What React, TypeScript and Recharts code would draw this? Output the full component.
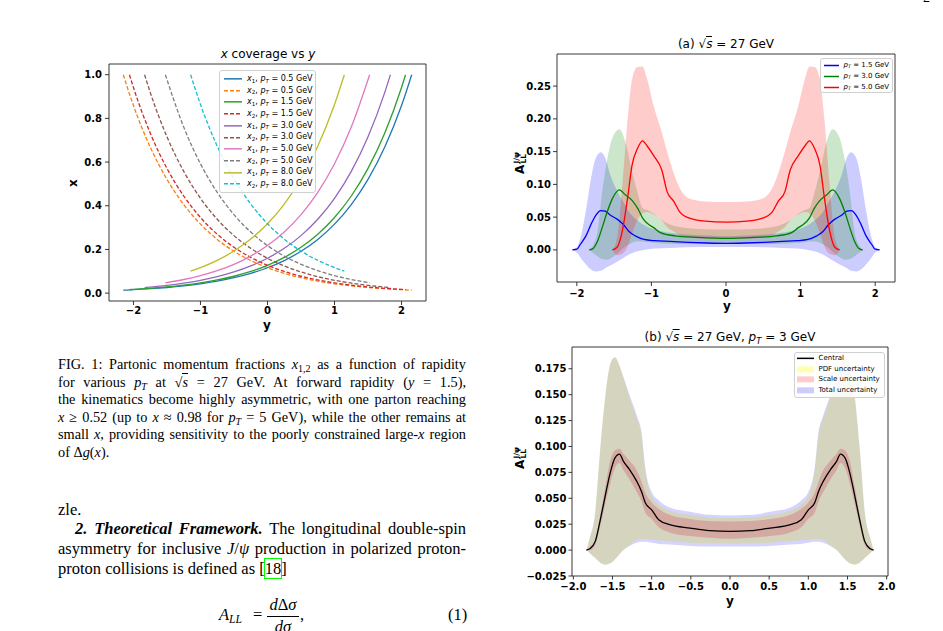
import React from 'react';
import { ComposedChart, Line, Area, XAxis, YAxis, ReferenceLine } from 'recharts';

// ---------- Fig. 1 (left): x coverage vs y ----------
const covLabels = ['0.5', '1.5', '3.0', '5.0', '8.0'];
const covX1Colors = ['#1f77b4', '#2ca02c', '#9467bd', '#e377c2', '#bcbd22'];
const covX2Colors = ['#ff7f0e', '#d62728', '#8c564b', '#7f7f7f', '#17becf'];

// rapidity grid and x1 read for each pT (x2 is the same curve mirrored in y)
const covY05 = [-2.152, -2.0, -1.75, -1.5, -1.25, -1.0, -0.75, -0.5, -0.25, 0, 0.25, 0.5, 0.75, 1.0, 1.25, 1.5, 1.75, 2.0, 2.152];
const covX05 = [0.0135, 0.0157, 0.0202, 0.0259, 0.0333, 0.0427, 0.0549, 0.0705, 0.0905, 0.1162, 0.1492, 0.1916, 0.246, 0.3159, 0.4056, 0.5208, 0.6687, 0.8586, 1.0];
const covY15 = [-2.06, -2.0, -1.75, -1.5, -1.25, -1.0, -0.75, -0.5, -0.25, 0, 0.25, 0.5, 0.75, 1.0, 1.25, 1.5, 1.75, 2.0, 2.06];
const covX15 = [0.0162, 0.0172, 0.0221, 0.0284, 0.0365, 0.0469, 0.0602, 0.0773, 0.0992, 0.1274, 0.1636, 0.21, 0.2697, 0.3463, 0.4447, 0.571, 0.7331, 0.9414, 1.0];
const covY30 = [-1.834, -1.75, -1.5, -1.25, -1.0, -0.75, -0.5, -0.25, 0, 0.25, 0.5, 0.75, 1.0, 1.25, 1.5, 1.75, 1.834];
const covX30 = [0.0255, 0.0278, 0.0356, 0.0458, 0.0588, 0.0754, 0.0969, 0.1244, 0.1597, 0.2051, 0.2633, 0.3381, 0.4341, 0.5574, 0.7157, 0.919, 1.0];
const covY50 = [-1.524, -1.25, -1.0, -0.75, -0.5, -0.25, 0, 0.25, 0.5, 0.75, 1.0, 1.25, 1.524];
const covX50 = [0.0474, 0.0624, 0.0801, 0.1029, 0.1321, 0.1696, 0.2178, 0.2797, 0.3591, 0.4611, 0.5921, 0.7602, 1.0];
const covY80 = [-1.147, -1.0, -0.75, -0.5, -0.25, 0, 0.25, 0.5, 0.75, 1.0, 1.147];
const covX80 = [0.1009, 0.1169, 0.1501, 0.1927, 0.2474, 0.3177, 0.4079, 0.5238, 0.6726, 0.8636, 1.0];

const covYs = [covY05, covY15, covY30, covY50, covY80];
const covXs = [covX05, covX15, covX30, covX50, covX80];

const covTicksX = [-2, -1, 0, 1, 2];
const covTicksY = [0, 0.2, 0.4, 0.6, 0.8, 1.0];
const covDomX = [-2.365, 2.365];
const covDomY = [-0.036, 1.049];

// ---------- (a) sqrt(s) = 27 GeV, left half (the plot is symmetric in y) ----------
const aBlueX = [-2.06, -2.0, -1.95, -1.88, -1.81, -1.75, -1.68, -1.62, -1.55, -1.46, -1.37, -1.3, -1.21, -1.1, -0.95, -0.75, -0.5, -0.25, 0];
const aBlueMid = [0, 0.001, 0.009, 0.021, 0.039, 0.052, 0.06, 0.059, 0.053, 0.047, 0.038, 0.028, 0.021, 0.016, 0.014, 0.013, 0.0115, 0.0105, 0.01];
const aBlueLo = [0, -0.004, -0.012, -0.022, -0.03, -0.033, -0.032, -0.028, -0.024, -0.018, -0.012, -0.007, -0.003, 0, 0.002, 0.003, 0.004, 0.0045, 0.0045];
const aBlueHi = [0, 0.004, 0.019, 0.059, 0.109, 0.139, 0.149, 0.141, 0.114, 0.09, 0.072, 0.058, 0.047, 0.038, 0.031, 0.026, 0.023, 0.022, 0.021];

const aGreenX = [-1.834, -1.79, -1.72, -1.66, -1.59, -1.52, -1.43, -1.35, -1.26, -1.18, -1.12, -1.04, -0.97, -0.88, -0.68, -0.37, 0];
const aGreenMid = [0, 0.0015, 0.014, 0.034, 0.059, 0.079, 0.0915, 0.084, 0.0755, 0.0625, 0.049, 0.039, 0.034, 0.0265, 0.0215, 0.019, 0.0175];
const aGreenLo = [0, -0.004, -0.01, -0.014, -0.015, -0.011, -0.003, 0.005, 0.011, 0.013, 0.013, 0.012, 0.011, 0.01, 0.009, 0.009, 0.009];
const aGreenHi = [0, 0.006, 0.03, 0.089, 0.14, 0.172, 0.184, 0.165, 0.12, 0.085, 0.064, 0.06, 0.055, 0.047, 0.036, 0.032, 0.031];

const aRedX = [-1.524, -1.46, -1.39, -1.32, -1.26, -1.19, -1.12, -1.06, -0.97, -0.86, -0.79, -0.7, -0.61, -0.5, -0.28, 0];
const aRedMid = [0, 0.004, 0.029, 0.079, 0.129, 0.154, 0.1665, 0.159, 0.144, 0.1215, 0.089, 0.074, 0.0565, 0.049, 0.044, 0.0425];
const aRedLo = [0, -0.008, -0.006, 0.005, 0.025, 0.045, 0.056, 0.058, 0.054, 0.045, 0.035, 0.028, 0.022, 0.019, 0.017, 0.017];
const aRedHi = [0, 0.019, 0.099, 0.199, 0.26, 0.279, 0.28, 0.262, 0.22, 0.179, 0.15, 0.117, 0.092, 0.079, 0.074, 0.073];

const aTicksX = [-2, -1, 0, 1, 2];
const aTicksY = [0, 0.05, 0.1, 0.15, 0.2, 0.25];
const aDomX = [-2.266, 2.266];
const aDomY = [-0.049, 0.299];

// ---------- (b) sqrt(s) = 27 GeV, pT = 3 GeV, left half ----------
const bX = [-1.834, -1.79, -1.72, -1.66, -1.59, -1.53, -1.47, -1.41, -1.36, -1.28, -1.19, -1.13, -1.08, -1.0, -0.91, -0.77, -0.51, -0.26, 0];
const bCentral = [0, 0.0013, 0.0084, 0.0277, 0.0534, 0.0743, 0.0888, 0.0927, 0.0856, 0.0775, 0.0663, 0.0566, 0.0454, 0.0389, 0.0293, 0.0245, 0.0212, 0.0187, 0.018];
const bPdfHi = [0, 0.012, 0.037, 0.095, 0.15, 0.179, 0.186, 0.178, 0.166, 0.147, 0.127, 0.111, 0.075, 0.052, 0.044, 0.038, 0.034, 0.0315, 0.031];
const bPdfLo = [0, -0.003, -0.0077, -0.012, -0.0142, -0.0128, -0.009, -0.004, 0, 0.005, 0.01, 0.011, 0.011, 0.01, 0.0095, 0.0085, 0.007, 0.0065, 0.0064];
const bScaleHi = [0, 0.003, 0.01, 0.0325, 0.062, 0.086, 0.096, 0.0978, 0.093, 0.086, 0.077, 0.066, 0.055, 0.046, 0.04, 0.034, 0.03, 0.028, 0.0277];
const bScaleLo = [0, 0, 0.005, 0.022, 0.045, 0.064, 0.079, 0.084, 0.077, 0.068, 0.056, 0.047, 0.036, 0.03, 0.022, 0.017, 0.0135, 0.012, 0.011];
const bTotalHi = [0, 0.012, 0.037, 0.095, 0.15, 0.179, 0.186, 0.178, 0.167, 0.149, 0.13, 0.114, 0.079, 0.056, 0.048, 0.041, 0.037, 0.034, 0.0335];
const bTotalLo = [0, -0.003, -0.0077, -0.012, -0.0142, -0.0128, -0.009, -0.004, 0, 0.004, 0.007, 0.008, 0.008, 0.007, 0.006, 0.0055, 0.004, 0.0035, 0.0035];

const bTicksX = [-2, -1.5, -1, -0.5, 0, 0.5, 1, 1.5, 2];
const bTicksY = [-0.025, 0, 0.025, 0.05, 0.075, 0.1, 0.125, 0.15, 0.175];
const bDomX = [-2.017, 2.017];
const bDomY = [-0.025, 0.196];

// mirror a left-half (ending at y = 0) onto the right half
const mirrorRows = <T extends { x: number }>(left: T[]): T[] => [
  ...left,
  ...left.slice(0, -1).reverse().map((p) => ({ ...p, x: -p.x })),
];

const bandRows = (xs: number[], lo: number[], mid: number[], hi: number[]) =>
  mirrorRows(xs.map((x, i) => ({ x, mid: mid[i], band: [lo[i], hi[i]] })));

const aBlue = bandRows(aBlueX, aBlueLo, aBlueMid, aBlueHi);
const aGreen = bandRows(aGreenX, aGreenLo, aGreenMid, aGreenHi);
const aRed = bandRows(aRedX, aRedLo, aRedMid, aRedHi);

const bRows = mirrorRows(
  bX.map((x, i) => ({
    x,
    central: bCentral[i],
    pdf: [bPdfLo[i], bPdfHi[i]],
    scale: [bScaleLo[i], bScaleHi[i]],
    total: [bTotalLo[i], bTotalHi[i]],
  })),
);

// ---------- styling helpers ----------
const MPL = 'DejaVu Sans, Verdana, sans-serif';
const SERIF = '"Liberation Serif", "Times New Roman", serif';
const tickStyle = { fill: '#000', fontSize: 10, fontWeight: 700, fontFamily: MPL };
const spine = { stroke: '#222', strokeWidth: 0.9 };

const fmt = (digits: number) => (v: number) =>
  (v < 0 ? '\u2212' : '') + Math.abs(v).toFixed(digits);

// top and right spines of the matplotlib box
const frame = (domX: number[], domY: number[]) => [
  <ReferenceLine key="ft" y={domY[1]} stroke={spine.stroke} strokeWidth={spine.strokeWidth} ifOverflow="visible" />,
  <ReferenceLine key="fr" x={domX[1]} stroke={spine.stroke} strokeWidth={spine.strokeWidth} ifOverflow="visible" />,
];

const Sub = ({ children }: { children: React.ReactNode }) => (
  <span style={{ fontSize: '0.7em', position: 'relative', top: '0.3em' }}>{children}</span>
);
const Sqrt = () => (
  <span>
    √<span style={{ borderTop: '1px solid currentColor' }}><i>s</i></span>
  </span>
);
const PT = () => (
  <>
    <i>p</i>
    <Sub>
      <i>T</i>
    </Sub>
  </>
);

const Centered = ({
  x,
  y,
  rotate,
  style,
  children,
}: {
  x: number;
  y: number;
  rotate?: boolean;
  style?: React.CSSProperties;
  children: React.ReactNode;
}) => (
  <div
    style={{
      position: 'absolute',
      left: x,
      top: y,
      transform: `translate(-50%, -50%)${rotate ? ' rotate(-90deg)' : ''}`,
      whiteSpace: 'nowrap',
      lineHeight: 1,
      fontFamily: MPL,
      color: '#000',
      ...style,
    }}
  >
    {children}
  </div>
);

const ALLLabel = () => (
  <span style={{ fontWeight: 700, fontSize: 12, display: 'inline-flex', alignItems: 'center' }}>
    A
    <span style={{ display: 'inline-flex', flexDirection: 'column', fontSize: 7.5, lineHeight: 1, marginLeft: 1 }}>
      <span>J/ψ</span>
      <span>LL</span>
    </span>
  </span>
);

type LegendItem = { kind: 'line' | 'dash' | 'patch'; color: string; opacity?: number; label: React.ReactNode };

function LegendBox({
  left,
  top,
  width,
  height,
  rowH,
  padTop,
  sampleLeft,
  sampleLen,
  textGap,
  fontSize,
  items,
}: {
  left: number;
  top: number;
  width: number;
  height: number;
  rowH: number;
  padTop: number;
  sampleLeft: number;
  sampleLen: number;
  textGap: number;
  fontSize: number;
  items: LegendItem[];
}) {
  return (
    <div
      style={{
        position: 'absolute',
        left,
        top,
        width,
        height,
        boxSizing: 'border-box',
        border: '1px solid #d0d0d0',
        borderRadius: 3,
        background: 'rgba(255,255,255,0.85)',
        fontFamily: MPL,
        fontSize,
        color: '#000',
      }}
    >
      {items.map((it, i) => (
        <div
          key={i}
          style={{
            position: 'absolute',
            left: sampleLeft,
            top: padTop + i * rowH,
            height: rowH,
            display: 'flex',
            alignItems: 'center',
            whiteSpace: 'nowrap',
            lineHeight: 1,
          }}
        >
          <svg width={sampleLen} height={rowH} style={{ marginRight: textGap, flex: 'none' }}>
            {it.kind === 'patch' ? (
              <rect x={0} y={rowH / 2 - 3} width={sampleLen} height={6} fill={it.color} fillOpacity={it.opacity ?? 1} />
            ) : (
              <line
                x1={0}
                x2={sampleLen}
                y1={rowH / 2}
                y2={rowH / 2}
                stroke={it.color}
                strokeOpacity={it.opacity ?? 1}
                strokeWidth={1.5}
                strokeDasharray={it.kind === 'dash' ? '4 2' : undefined}
              />
            )}
          </svg>
          <span>{it.label}</span>
        </div>
      ))}
    </div>
  );
}

function CoverageChart() {
  return (
    <ComposedChart width={400} height={300} margin={{ top: 24, right: 24, left: 14, bottom: 14 }}>
      <XAxis
        dataKey="y"
        type="number"
        domain={covDomX}
        allowDataOverflow
        ticks={covTicksX}
        interval={0}
        tickFormatter={fmt(0)}
        tick={tickStyle}
        tickSize={4}
        tickMargin={2}
        tickLine={spine}
        axisLine={spine}
        height={25}
      />
      <YAxis
        type="number"
        domain={covDomY}
        allowDataOverflow
        ticks={covTicksY}
        interval={0}
        tickFormatter={fmt(1)}
        tick={tickStyle}
        tickSize={4}
        tickMargin={3}
        tickLine={spine}
        axisLine={spine}
        width={45}
      />
      {frame(covDomX, covDomY)}
      {covLabels.flatMap((pt, k) => {
        const x1 = covYs[k].map((y, i) => ({ y, x: covXs[k][i] }));
        const x2 = covYs[k].map((y, i) => ({ y: -y, x: covXs[k][i] })).reverse();
        return [
          <Line
            key={`x1-${pt}`}
            data={x1}
            dataKey="x"
            type="monotone"
            stroke={covX1Colors[k]}
            strokeWidth={1.3}
            dot={false}
            activeDot={false}
            isAnimationActive={false}
          />,
          <Line
            key={`x2-${pt}`}
            data={x2}
            dataKey="x"
            type="monotone"
            stroke={covX2Colors[k]}
            strokeWidth={1.3}
            strokeDasharray="4 2"
            dot={false}
            activeDot={false}
            isAnimationActive={false}
          />,
        ];
      })}
    </ComposedChart>
  );
}

function ChartA() {
  const series = [
    { rows: aBlue, color: '#0000ff' },
    { rows: aGreen, color: '#008000' },
    { rows: aRed, color: '#ff0000' },
  ];
  return (
    <ComposedChart width={420} height={280} margin={{ top: 24, right: 25, left: 12, bottom: 3 }}>
      <XAxis
        dataKey="x"
        type="number"
        domain={aDomX}
        allowDataOverflow
        ticks={aTicksX}
        interval={0}
        tickFormatter={fmt(0)}
        tick={tickStyle}
        tickSize={4}
        tickMargin={4}
        tickLine={spine}
        axisLine={spine}
        height={25}
      />
      <YAxis
        type="number"
        domain={aDomY}
        allowDataOverflow
        ticks={aTicksY}
        interval={0}
        tickFormatter={fmt(2)}
        tick={tickStyle}
        tickSize={4}
        tickMargin={2}
        tickLine={spine}
        axisLine={spine}
        width={45}
      />
      {frame(aDomX, aDomY)}
      {series.flatMap((s, k) => [
        <Area
          key={`band-${k}`}
          data={s.rows}
          dataKey="band"
          type="monotone"
          stroke="none"
          fill={s.color}
          fillOpacity={0.2}
          dot={false}
          activeDot={false}
          isAnimationActive={false}
        />,
        <Line
          key={`mid-${k}`}
          data={s.rows}
          dataKey="mid"
          type="monotone"
          stroke={s.color}
          strokeWidth={1.3}
          dot={false}
          activeDot={false}
          isAnimationActive={false}
        />,
      ])}
    </ComposedChart>
  );
}

function ChartB() {
  return (
    <ComposedChart width={420} height={280} data={bRows} margin={{ top: 27, right: 32, left: 17, bottom: 4 }}>
      <XAxis
        dataKey="x"
        type="number"
        domain={bDomX}
        allowDataOverflow
        ticks={bTicksX}
        interval={0}
        tickFormatter={fmt(1)}
        tick={tickStyle}
        tickSize={3.5}
        tickMargin={3}
        tickLine={spine}
        axisLine={spine}
        height={20}
      />
      <YAxis
        type="number"
        domain={bDomY}
        allowDataOverflow
        ticks={bTicksY}
        interval={0}
        tickFormatter={fmt(3)}
        tick={tickStyle}
        tickSize={3.5}
        tickMargin={2}
        tickLine={spine}
        axisLine={spine}
        width={55}
      />
      {frame(bDomX, bDomY)}
      <Area dataKey="pdf" type="monotone" stroke="none" fill="#ffff00" fillOpacity={0.3} dot={false} activeDot={false} isAnimationActive={false} />
      <Area dataKey="scale" type="monotone" stroke="none" fill="#ff0000" fillOpacity={0.2} dot={false} activeDot={false} isAnimationActive={false} />
      <Area dataKey="total" type="monotone" stroke="none" fill="#0000ff" fillOpacity={0.17} dot={false} activeDot={false} isAnimationActive={false} />
      <Line dataKey="central" type="monotone" stroke="#000" strokeWidth={1.3} dot={false} activeDot={false} isAnimationActive={false} />
    </ComposedChart>
  );
}

const justLine = (top: number, left: number, width: number, last = false): React.CSSProperties => ({
  position: 'absolute',
  top,
  left,
  width,
  whiteSpace: 'nowrap',
  textAlign: last ? 'left' : 'justify',
  textAlignLast: last ? 'left' : 'justify',
});

export default function App() {
  const capTop = 356;
  const capLH = 17.6;
  const bodyTop = 499.5;
  const bodyLH = 19.8;
  return (
    <div
      style={{
        position: 'absolute',
        left: 0,
        top: 0,
        width: 943,
        height: 631,
        overflow: 'hidden',
        background: '#fff',
        color: '#000',
      }}
    >
      <div style={{ position: 'absolute', left: 50, top: 40 }}>
        <CoverageChart />
      </div>
      <div style={{ position: 'absolute', left: 500, top: 30 }}>
        <ChartA />
      </div>
      <div style={{ position: 'absolute', left: 500, top: 320 }}>
        <ChartB />
      </div>

      {/* titles and axis labels */}
      <Centered x={268} y={54} style={{ fontSize: 12 }}>
        <i>x</i> coverage vs <i>y</i>
      </Centered>
      <Centered x={73} y={183} rotate style={{ fontSize: 12, fontWeight: 700 }}>
        x
      </Centered>
      <Centered x={267} y={325} style={{ fontSize: 12, fontWeight: 700 }}>
        y
      </Centered>

      <Centered x={726} y={44} style={{ fontSize: 12 }}>
        (a) <Sqrt /> = 27 GeV
      </Centered>
      <Centered x={519} y={163} rotate>
        <ALLLabel />
      </Centered>
      <Centered x={727} y={306} style={{ fontSize: 12, fontWeight: 700 }}>
        y
      </Centered>

      <Centered x={730} y={337} style={{ fontSize: 12 }}>
        (b) <Sqrt /> = 27 GeV, <PT /> = 3 GeV
      </Centered>
      <Centered x={519} y={458} rotate>
        <ALLLabel />
      </Centered>
      <Centered x={730} y={601} style={{ fontSize: 12, fontWeight: 700 }}>
        y
      </Centered>

      {/* legends */}
      <LegendBox
        left={219}
        top={70}
        width={97}
        height={123}
        rowH={11.7}
        padTop={2}
        sampleLeft={4}
        sampleLen={18}
        textGap={5}
        fontSize={8}
        items={covLabels.flatMap((pt, k) => [
          {
            kind: 'line' as const,
            color: covX1Colors[k],
            label: (
              <>
                <i>x</i>
                <Sub>1</Sub>, <PT /> = {pt} GeV
              </>
            ),
          },
          {
            kind: 'dash' as const,
            color: covX2Colors[k],
            label: (
              <>
                <i>x</i>
                <Sub>2</Sub>, <PT /> = {pt} GeV
              </>
            ),
          },
        ])}
      />
      <LegendBox
        left={820}
        top={57.5}
        width={73}
        height={35.5}
        rowH={11}
        padTop={1.3}
        sampleLeft={2.5}
        sampleLen={15}
        textGap={5}
        fontSize={7}
        items={[
          { kind: 'line', color: '#0000ff', label: <><PT /> = 1.5 GeV</> },
          { kind: 'line', color: '#008000', label: <><PT /> = 3.0 GeV</> },
          { kind: 'line', color: '#ff0000', label: <><PT /> = 5.0 GeV</> },
        ]}
      />
      <LegendBox
        left={794}
        top={351.5}
        width={91}
        height={46}
        rowH={10.7}
        padTop={0.5}
        sampleLeft={2}
        sampleLen={17}
        textGap={4.5}
        fontSize={7}
        items={[
          { kind: 'line', color: '#000000', label: 'Central' },
          { kind: 'patch', color: '#ffff00', opacity: 0.3, label: 'PDF uncertainty' },
          { kind: 'patch', color: '#ff0000', opacity: 0.2, label: 'Scale uncertainty' },
          { kind: 'patch', color: '#0000ff', opacity: 0.2, label: 'Total uncertainty' },
        ]}
      />

      {/* page text */}
      <div style={{ position: 'absolute', left: 923, top: -10, fontFamily: SERIF, fontSize: 14 }}>2</div>

      <div style={{ fontFamily: SERIF, fontSize: 14.3, lineHeight: `${capLH}px` }}>
        <div style={justLine(capTop, 58, 408)}>
          FIG. 1: Partonic momentum fractions <i>x</i>
          <Sub>1,2</Sub> as a function of rapidity
        </div>
        <div style={justLine(capTop + capLH, 58, 408)}>
          for various <PT /> at <Sqrt /> = 27 GeV. At forward rapidity (<i>y</i> = 1.5),
        </div>
        <div style={justLine(capTop + 2 * capLH, 58, 408)}>
          the kinematics become highly asymmetric, with one parton reaching
        </div>
        <div style={justLine(capTop + 3 * capLH, 58, 408)}>
          <i>x</i> ≥ 0.52 (up to <i>x</i> ≈ 0.98 for <PT /> = 5 GeV), while the other remains at
        </div>
        <div style={justLine(capTop + 4 * capLH, 58, 408)}>
          small <i>x</i>, providing sensitivity to the poorly constrained large-<i>x</i> region
        </div>
        <div style={justLine(capTop + 5 * capLH, 58, 408, true)}>
          of Δ<i>g</i>(<i>x</i>).
        </div>
      </div>

      <div style={{ fontFamily: SERIF, fontSize: 16.5, lineHeight: `${bodyLH}px` }}>
        <div style={justLine(bodyTop, 58, 408, true)}>zle.</div>
        <div style={justLine(bodyTop + bodyLH, 75, 391)}>
          <b>
            <i>2. Theoretical Framework.</i>
          </b>{' '}
          The longitudinal double-spin
        </div>
        <div style={justLine(bodyTop + 2 * bodyLH, 58, 408)}>
          asymmetry for inclusive <i>J</i>/<i>ψ</i> production in polarized proton-
        </div>
        <div style={justLine(bodyTop + 3 * bodyLH, 58, 408, true)}>
          proton collisions is defined as [<span style={{ outline: '1px solid #00ff00' }}>18</span>]
        </div>
      </div>

      {/* equation (1) */}
      <div style={{ position: 'absolute', left: 219, top: 607, fontFamily: SERIF, fontSize: 16.5, lineHeight: 1, whiteSpace: 'nowrap' }}>
        <i>A</i>
        <Sub>
          <i>LL</i>
        </Sub>
      </div>
      <div style={{ position: 'absolute', left: 253, top: 607, fontFamily: SERIF, fontSize: 16.5, lineHeight: 1 }}>=</div>
      <div style={{ position: 'absolute', left: 267, top: 597, width: 32, textAlign: 'center', fontFamily: SERIF, fontSize: 16.5, lineHeight: 1 }}>
        <i>d</i>Δ<i>σ</i>
      </div>
      <div style={{ position: 'absolute', left: 267, top: 616, width: 32, borderTop: '1px solid #000' }} />
      <div style={{ position: 'absolute', left: 267, top: 619, width: 32, textAlign: 'center', fontFamily: SERIF, fontSize: 16.5, lineHeight: 1 }}>
        <i>d</i>
        <i>σ</i>
      </div>
      <div style={{ position: 'absolute', left: 300, top: 607, fontFamily: SERIF, fontSize: 16.5, lineHeight: 1 }}>,</div>
      <div style={{ position: 'absolute', left: 448, top: 607, fontFamily: SERIF, fontSize: 16.5, lineHeight: 1 }}>(1)</div>
    </div>
  );
}
